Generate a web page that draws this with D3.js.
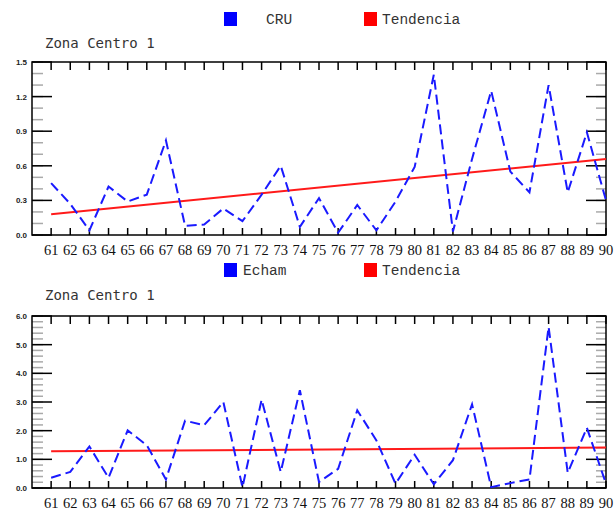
<!DOCTYPE html>
<html><head><meta charset="utf-8">
<script src="https://cdn.jsdelivr.net/npm/d3@7"></script>
<style>body{margin:0;background:#fff}svg{display:block}</style>
</head><body>
<svg id="c" width="615" height="512"></svg>
<script>
const years = [61,62,63,64,65,66,67,68,69,70,71,72,73,74,75,76,77,78,79,80,81,82,83,84,85,86,87,88,89,90];
const cruValues = [0.45,0.27,0.04,0.42,0.29,0.35,0.82,0.08,0.09,0.23,0.12,0.35,0.60,0.07,0.32,0.02,0.26,0.04,0.29,0.59,1.39,0.03,0.66,1.25,0.55,0.37,1.30,0.37,0.89,0.30];
const echamValues = [0.36,0.56,1.45,0.36,2.01,1.49,0.30,2.35,2.19,3.00,0.03,3.08,0.56,3.41,0.21,0.67,2.71,1.66,0.15,1.16,0.13,0.97,2.92,0.03,0.17,0.30,5.62,0.53,2.10,0.15];
const trendYears = [61, 90];
const cruTrend = [0.18, 0.66];
const echamTrend = [1.28, 1.41];
const cruTicks = [0.0,0.3,0.6,0.9,1.2,1.5];
const echamTicks = [0.0,1.0,2.0,3.0,4.0,5.0,6.0];

const svg = d3.select("#c");

function panel(cfg) {
  const g = svg.append("g");
  const x = d3.scaleLinear().domain([60, 90]).range([32, 606]);
  const y = d3.scaleLinear().domain([0, cfg.max]).range([cfg.bottom, cfg.top]);

  // legend
  g.append("rect").attr("x",224).attr("y",cfg.legY-7).attr("width",13).attr("height",14).attr("fill","#0000ff");
  g.append("text").attr("x",cfg.legTextX).attr("y",cfg.legY+5).text(cfg.name)
    .attr("font-family","Liberation Mono").attr("font-size",14.5).attr("fill","#333");
  g.append("rect").attr("x",364).attr("y",cfg.legY-7).attr("width",13).attr("height",14).attr("fill","#ff0000");
  g.append("text").attr("x",382).attr("y",cfg.legY+5).text("Tendencia")
    .attr("font-family","Liberation Mono").attr("font-size",14.5).attr("fill","#333");
  // title
  g.append("text").attr("x",45).attr("y",cfg.titleY).text("Zona Centro 1")
    .attr("font-family","DejaVu Sans Mono").attr("font-size",14).attr("fill","#333");

  // minor y ticks
  const minor = d3.range(0, cfg.max + 1e-9, cfg.minorStep);
  g.selectAll(".mnl").data(minor).join("line")
    .attr("x1",32).attr("x2",43).attr("y1",d=>y(d)).attr("y2",d=>y(d))
    .attr("stroke","#aaa").attr("stroke-width",1.5);
  g.selectAll(".mnr").data(minor).join("line")
    .attr("x1",606).attr("x2",596).attr("y1",d=>y(d)).attr("y2",d=>y(d))
    .attr("stroke","#aaa").attr("stroke-width",1.5);
  // major y ticks
  g.selectAll(".mjl").data(cfg.ticks).join("line")
    .attr("x1",32).attr("x2",52).attr("y1",d=>y(d)).attr("y2",d=>y(d))
    .attr("stroke","#000").attr("stroke-width",1.5);
  g.selectAll(".mjr").data(cfg.ticks).join("line")
    .attr("x1",606).attr("x2",586).attr("y1",d=>y(d)).attr("y2",d=>y(d))
    .attr("stroke","#000").attr("stroke-width",1.5);
  g.selectAll(".yl").data(cfg.ticks).join("text")
    .attr("x",27).attr("y",d=>y(d)+3).attr("text-anchor","end")
    .attr("font-family","Liberation Sans").attr("font-weight","bold").attr("font-size",8)
    .attr("fill","#222").text(d=>d.toFixed(1));

  // x ticks top and bottom
  g.selectAll(".xt").data(years).join("line")
    .attr("x1",d=>x(d)).attr("x2",d=>x(d)).attr("y1",cfg.top).attr("y2",cfg.top+8)
    .attr("stroke","#000").attr("stroke-width",1.5);
  g.selectAll(".xb").data(years).join("line")
    .attr("x1",d=>x(d)).attr("x2",d=>x(d)).attr("y1",cfg.bottom).attr("y2",cfg.bottom-7)
    .attr("stroke","#000").attr("stroke-width",1.5);
  g.selectAll(".xl").data(years).join("text")
    .attr("x",d=>x(d)).attr("y",cfg.bottom+20).attr("text-anchor","middle")
    .attr("font-family","Liberation Serif").attr("font-size",14.5).attr("fill","#111")
    .text(d=>d);

  // frame
  g.append("rect").attr("x",32).attr("y",cfg.top).attr("width",574).attr("height",cfg.bottom-cfg.top)
    .attr("fill","none").attr("stroke","#000").attr("stroke-width",1.5);

  // trend
  const lineT = d3.line().x((d,i)=>x(trendYears[i])).y(d=>y(d));
  g.append("path").attr("d",lineT(cfg.trend)).attr("fill","none")
    .attr("stroke","#ff1a1a").attr("stroke-width",2);
  // data
  const line = d3.line().x((d,i)=>x(years[i])).y(d=>y(d));
  g.append("path").attr("d",line(cfg.values)).attr("fill","none")
    .attr("stroke","#1a1aff").attr("stroke-width",2).attr("stroke-dasharray","10,5");
}

panel({name:"CRU", legTextX:266, values:cruValues, trend:cruTrend, ticks:cruTicks, max:1.5, minorStep:0.1,
  top:62, bottom:235, legY:19, titleY:48});
panel({name:"Echam", legTextX:243, values:echamValues, trend:echamTrend, ticks:echamTicks, max:6.0, minorStep:0.2,
  top:316, bottom:488, legY:270, titleY:300});
</script>
</body></html>
